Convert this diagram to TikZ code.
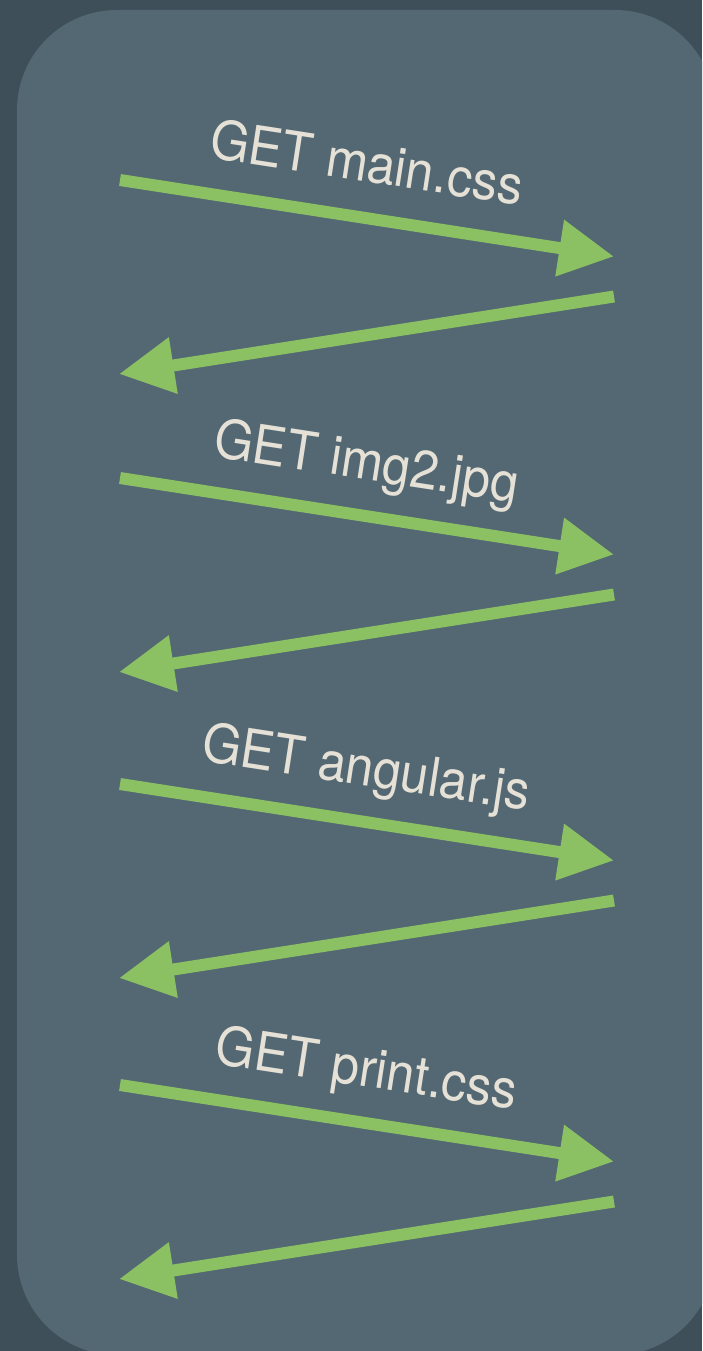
\documentclass[tikz,border=0pt]{standalone}
\usepackage{fontspec}
\usetikzlibrary{arrows.meta}
\newfontfamily\lblfont[FakeStretch=0.93]{TeX Gyre Heros}
\definecolor{pagebg}{HTML}{3E4F59}
\definecolor{panelbg}{HTML}{536873}
\definecolor{reqgreen}{HTML}{8BC063}
\definecolor{labeltxt}{HTML}{E6E1D6}
\tikzset{
  msg/.style={draw=reqgreen, line width=12pt,
    -{Triangle[length=55pt,width=54pt,fill=reqgreen]}},
  lbl/.style={text=labeltxt, font=\lblfont\fontsize{54}{60}\selectfont,
    inner sep=0pt, anchor=base, rotate=-8.75},
}
\begin{document}
\begin{tikzpicture}[x=1pt,y=-1pt]
  \useasboundingbox (0,0) rectangle (702,1351);
  \clip (0,0) rectangle (702,1351);
  \fill[pagebg] (0,0) rectangle (702,1351);
  \fill[panelbg, rounded corners=100pt] (17,10) rectangle (715,1355);

  % request / response pairs
  \foreach \i/\y/\name in {1/180/main.css, 2/478/img2.jpg, 3/784/angular.js, 4/1085/print.css}{
    \coordinate (req\i s) at (120,\y);
    \coordinate (req\i e) at (614,\y+76.5);
    \coordinate (res\i s) at (614,\y+116.5);
    \coordinate (res\i e) at (119,\y+194);
    \draw[msg] (req\i s) -- (req\i e);
    \draw[msg] (res\i s) -- (res\i e);
    \node[lbl] (lab\i) at (364,\y+1.5) {GET \name};
  }
\end{tikzpicture}
\end{document}
